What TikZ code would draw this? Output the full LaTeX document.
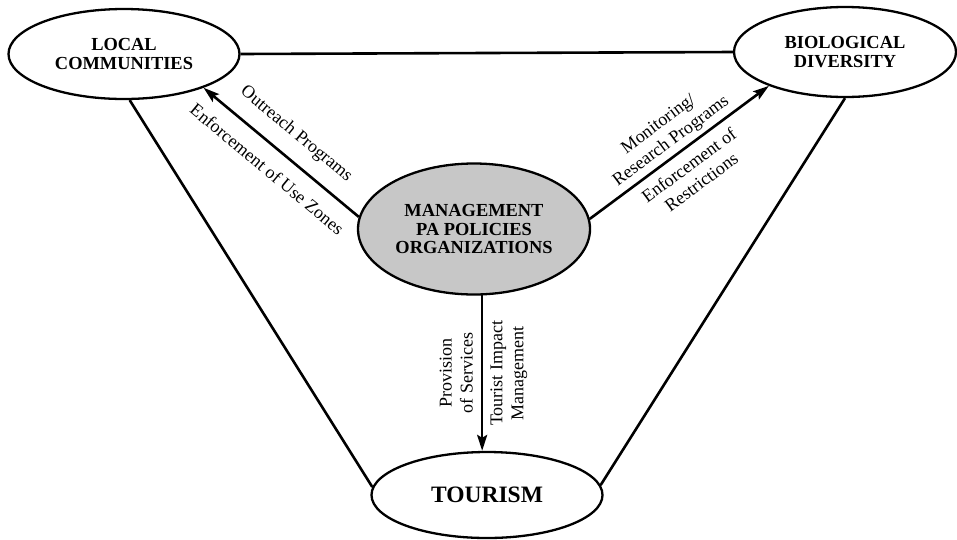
\documentclass[tikz,border=0pt]{standalone}
\usepackage{fontspec}
\setmainfont{Liberation Serif}
\usetikzlibrary{shapes.geometric,arrows.meta}

\tikzset{
  place/.style={draw, ellipse, line width=2.3pt, inner sep=0pt, align=center,
    font=\fontsize{18.4}{18.6}\selectfont\bfseries},
  hub/.style={place, fill=black!22},
  tie/.style={line width=2.6pt},
  flow/.style={line width=2.6pt, -{Stealth[length=16pt,width=10pt,inset=3pt]}},
  note/.style={font=\fontsize{18}{21}\selectfont, align=center}
}

\begin{document}
\begin{tikzpicture}[x=1pt, y=-1pt]
                \useasboundingbox (0,0) rectangle (957,539);

                \node[place, minimum width=231pt, minimum height=90pt] (lc) at (124,54) {LOCAL\\COMMUNITIES};
                \node[place, minimum width=222pt, minimum height=90pt] (bd) at (845,52) {BIOLOGICAL\\DIVERSITY};
                \node[hub, minimum width=232pt, minimum height=131pt] (mgmt) at (474,229) {MANAGEMENT\\PA POLICIES\\ORGANIZATIONS};
                \node[place, minimum width=231pt, minimum height=86pt, font=\fontsize{23.5}{26}\selectfont\bfseries] (tour) at (487,495) {TOURISM};

                \draw[tie] (lc.east) -- (bd.west);
                \draw[tie] (lc.-83) -- (tour.176);
                \draw[tie] (bd.south) -- (tour.5);

                \draw[flow] (mgmt.174) -- (lc.-23)
                    node[note, midway, sloped, above, inner sep=14pt] {Outreach Programs}
                    node[note, midway, sloped, below, inner sep=14pt] {Enforcement of Use Zones};
                \draw[flow] (mgmt.5) -- (bd.204)
                    node[note, midway, sloped, above, inner sep=4pt] {Monitoring/\\Research Programs}
                    node[note, midway, sloped, below, inner sep=8pt] {Enforcement of\\Restrictions};
                \draw[flow] (mgmt.-83) -- (tour.north -| mgmt.-83)
                    node[note, midway, rotate=90, above, inner sep=8pt] {Provision\\of Services}
                    node[note, midway, rotate=90, below, inner sep=7pt] {Tourist Impact\\Management};
            \end{tikzpicture}
\end{document}
